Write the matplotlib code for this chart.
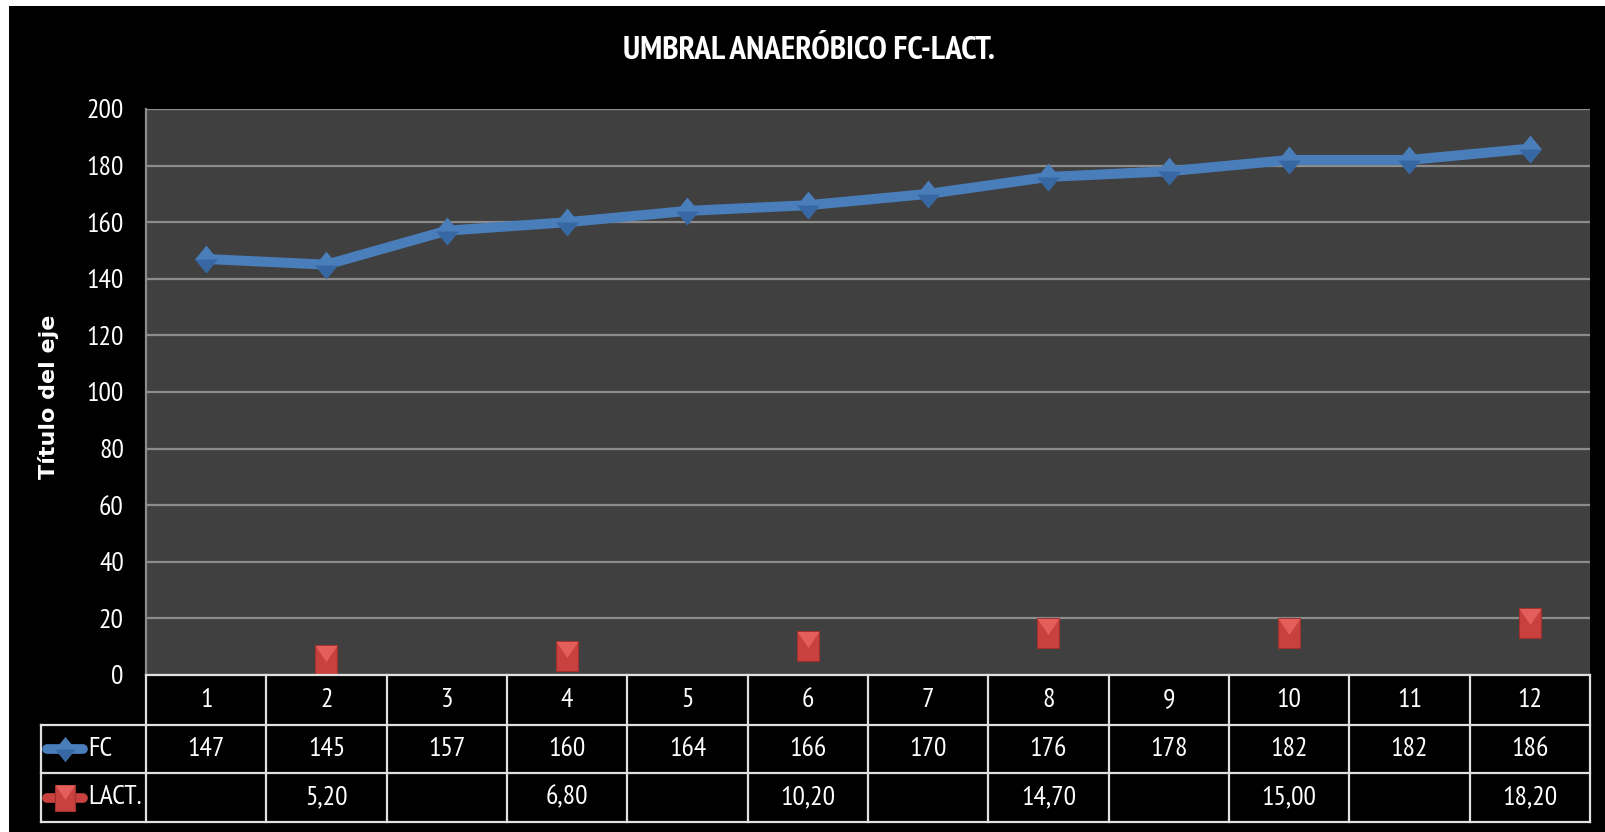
import matplotlib
matplotlib.use("Agg")
import matplotlib.pyplot as plt
import numpy as np
from matplotlib.patches import Rectangle
from matplotlib.transforms import blended_transform_factory

# Series
stages = list(range(1, 13))
fc = [147, 145, 157, 160, 164, 166, 170, 176, 178, 182, 182, 186]
lact = [np.nan, 5.2, np.nan, 6.8, np.nan, 10.2, np.nan, 14.7, np.nan, 15.0, np.nan, 18.2]
series_names = ["FC", "LACT."]
y_ticks = list(range(0, 201, 20))
title = "UMBRAL ANAERÓBICO FC-LACT."
y_label = "Título del eje"

W, H = 1606, 832
narrow = ["PT Sans Narrow", "DejaVu Sans"]
blue, blue_dark = "#4a7ebb", "#2f5f9a"
red, red_light, red_dark = "#c8413e", "#ee6a66", "#9e302d"

def fx(px):
    return px / W

def fy(py):
    return 1 - py / H

fig = plt.figure(figsize=(W / 100, H / 100), dpi=100, facecolor="white")
# black chart area, thin white strip along top and left
fig.patches.append(Rectangle((fx(9), 0), 1, fy(6), transform=fig.transFigure,
                             facecolor="black", edgecolor="none", zorder=-1))

ax = fig.add_axes([fx(146), fy(675), fx(1590) - fx(146), fy(109) - fy(675)])
ax.set_facecolor("#404040")
ax.set_xlim(0.5, 12.5)
ax.set_ylim(0, 200)
ax.set_yticks(y_ticks)
ax.set_xticks([])
ax.yaxis.grid(True, color="#8c8c8c", lw=1.6)
ax.set_axisbelow(True)
for s in ["top", "right", "bottom"]:
    ax.spines[s].set_visible(False)
ax.spines["left"].set_color("#8c8c8c")
ax.spines["left"].set_linewidth(1.6)
ax.tick_params(axis="y", length=0, pad=16, labelcolor="white", labelsize=20)
for lab in ax.get_yticklabels():
    lab.set_family(narrow)

# marker shapes: diamond with darker lower half, box with light top wedge
diamond = [(-0.41, 0), (0, 0.5), (0.41, 0), (0, -0.5), (-0.41, 0)]
diamond_low = [(-0.41, 0), (0.41, 0), (0, -0.5), (-0.41, 0)]
box = [(-0.375, -0.5), (0.375, -0.5), (0.375, 0.5), (-0.375, 0.5), (-0.375, -0.5)]
wedge = [(-0.375, 0.5), (0.375, 0.5), (0, -0.05), (-0.375, 0.5)]

ax.plot(stages, fc, color=blue, lw=7.2, solid_joinstyle="round", zorder=3)
ax.plot(stages, fc, ls="none", marker=diamond, ms=20, mfc=blue, mec="none", zorder=4)
ax.plot(stages, fc, ls="none", marker=diamond_low, ms=20, mfc=blue_dark, mec="none",
        alpha=0.7, zorder=5)

ax.plot(stages, lact, ls="none", marker=box, ms=21, mfc=red, mec=red_dark, mew=0.8, zorder=4)
ax.plot(stages, lact, ls="none", marker=wedge, ms=21, mfc=red_light, mec="none",
        alpha=0.75, zorder=5)

# data table under the plot
tr = blended_transform_factory(ax.transData, fig.transFigure)
rows = [675, 725, 773, 822]
line_kw = dict(color="#e0e0e0", lw=1.6, clip_on=False, zorder=6)
ax.plot([0.5, 12.5], [fy(rows[0])] * 2, transform=tr, **line_kw)
for r in rows[1:]:
    fig.add_artist(plt.Line2D([fx(41), fx(1590)], [fy(r)] * 2, **line_kw))
for xb in np.arange(0.5, 13.0, 1.0):
    ax.plot([xb, xb], [fy(rows[0]), fy(rows[-1])], transform=tr, **line_kw)
fig.add_artist(plt.Line2D([fx(41), fx(41)], [fy(rows[1]), fy(rows[-1])], **line_kw))

txt_kw = dict(color="white", fontsize=20, family=narrow, ha="center", va="center")
y_head = fy((rows[0] + rows[1]) / 2)
y_fc = fy((rows[1] + rows[2]) / 2)
y_la = fy((rows[2] + rows[3]) / 2)
for i, st in enumerate(stages):
    ax.text(st, y_head, str(st), transform=tr, **txt_kw)
    ax.text(st, y_fc, str(fc[i]), transform=tr, **txt_kw)
    if not np.isnan(lact[i]):
        ax.text(st, y_la, f"{lact[i]:.2f}".replace(".", ","), transform=tr, **txt_kw)

# legend keys in the first column
key_kw = dict(zorder=7)
fig.add_artist(plt.Line2D([fx(47), fx(83)], [y_fc] * 2, color=blue, lw=7,
                          solid_capstyle="round", **key_kw))
fig.add_artist(plt.Line2D([fx(65)], [y_fc], marker=diamond, ms=18, mfc=blue, mec="none",
                          **key_kw))
fig.add_artist(plt.Line2D([fx(65)], [y_fc], marker=diamond_low, ms=18, mfc=blue_dark,
                          mec="none", alpha=0.7, **key_kw))
fig.add_artist(plt.Line2D([fx(47), fx(83)], [y_la] * 2, color=red, lw=7,
                          solid_capstyle="round", **key_kw))
fig.add_artist(plt.Line2D([fx(65)], [y_la], marker=box, ms=19, mfc=red, mec=red_dark,
                          mew=0.8, **key_kw))
fig.add_artist(plt.Line2D([fx(65)], [y_la], marker=wedge, ms=19, mfc=red_light,
                          mec="none", alpha=0.75, **key_kw))
fig.text(fx(88), y_fc, series_names[0], color="white", fontsize=20, family=narrow,
         ha="left", va="center")
fig.text(fx(88), y_la, series_names[1], color="white", fontsize=20, family=narrow,
         ha="left", va="center")

fig.text(fx(809), fy(51), title, color="white", fontsize=24, fontweight="bold",
         family=narrow, ha="center", va="center")
fig.text(fx(49), fy(397), y_label, color="white", fontsize=16, fontweight="bold",
         family="DejaVu Sans", rotation=90, ha="center", va="center")

fig.savefig("out.png", dpi=100, facecolor="white")
